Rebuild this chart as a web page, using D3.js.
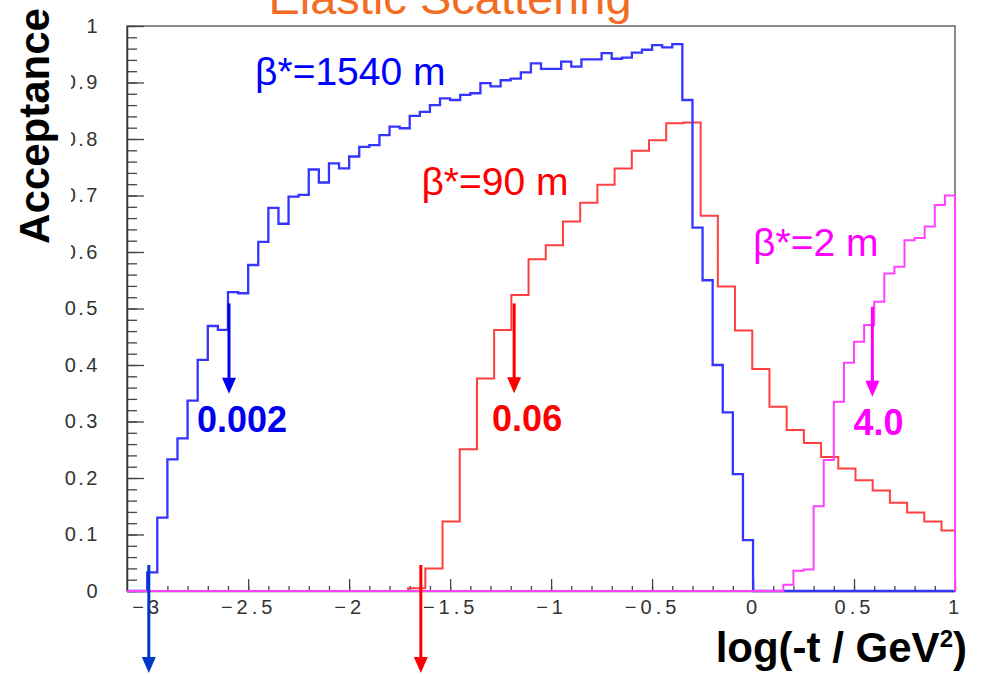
<!DOCTYPE html>
<html>
<head>
<meta charset="utf-8">
<script src="https://cdn.jsdelivr.net/npm/d3@7"></script>
<style>
  body { margin: 0; background: #fff; }
  svg { display: block; }
  text { font-family: "Liberation Sans", Arial, Helvetica, sans-serif; }
</style>
</head>
<body>
<svg id="chart" width="981" height="674"></svg>
<script>
// axis ranges and tick labels
const xDomain = [-3.1, 1];
const yDomain = [0, 1];
const xTicks = [-3, -2.5, -2, -1.5, -1, -0.5, 0, 0.5, 1];
const yTicks = [0, 0.1, 0.2, 0.3, 0.4, 0.5, 0.6, 0.7, 0.8, 0.9, 1];

// beta* = 1540 m, bins of 0.05 starting at -3.0
const blueStart = -3.0, blueWidth = 0.05;
const blueValues = [
  0.033, 0.130, 0.233, 0.270, 0.337, 0.409, 0.469, 0.462, 0.529, 0.527,
  0.577, 0.618, 0.678, 0.650, 0.698, 0.701, 0.746, 0.723, 0.757, 0.748,
  0.769, 0.786, 0.789, 0.807, 0.822, 0.819, 0.841, 0.848, 0.860, 0.872,
  0.869, 0.878, 0.881, 0.899, 0.893, 0.904, 0.907, 0.918, 0.934, 0.924,
  0.924, 0.937, 0.928, 0.941, 0.941, 0.952, 0.942, 0.944, 0.953, 0.958,
  0.966, 0.962, 0.968, 0.869, 0.643, 0.550, 0.400, 0.316, 0.207, 0.090
];

// beta* = 90 m
const redStart = -1.708, redWidth = 0.0852;
const redValues = [
  0.005, 0.040, 0.123, 0.251, 0.376, 0.462, 0.524, 0.587, 0.612, 0.654,
  0.687, 0.719, 0.748, 0.779, 0.798, 0.828, 0.829, 0.664, 0.539, 0.461,
  0.393, 0.326, 0.285, 0.262, 0.237, 0.217, 0.196, 0.178, 0.156, 0.139,
  0.123, 0.107
];

// beta* = 2 m
const magentaStart = 0.1, magentaWidth = 0.05;
const magentaValues = [
  0, 0.011, 0.036, 0.038, 0.150, 0.232, 0.335, 0.404, 0.441, 0.471,
  0.512, 0.562, 0.574, 0.621, 0.625, 0.645, 0.683, 0.700
];

// arrows: x, from, to (data units), with value label
const arrows = [
  { x: -2.595, from: 0.509, to: 0.349, color: "#0000f0", label: "0.002", dx: 13 },
  { x: -1.183, from: 0.509, to: 0.350, color: "#ff0000", label: "0.06", dx: 13 },
  { x: 0.591, from: 0.503, to: 0.344, color: "#ff00ff", label: "4.0", dx: 6 },
  { x: -2.992, from: 0.046, to: -0.145, color: "#0037c8", label: "", dx: 0 },
  { x: -1.645, from: 0.046, to: -0.145, color: "#ff0000", label: "", dx: 0 }
];

const betaLabels = [
  { text: "β*=1540 m", x: -2.466, y: 0.896, color: "#0000ff" },
  { text: "β*=90 m", x: -1.642, y: 0.701, color: "#ff0000" },
  { text: "β*=2 m", x: 0.0, y: 0.593, color: "#ff00ff" }
];

const svg = d3.select("#chart");
const x = d3.scaleLinear().domain(xDomain).range([127, 955]);
const y = d3.scaleLinear().domain(yDomain).range([591, 26]);

svg.append("rect").attr("width", 981).attr("height", 674).attr("fill", "#fff");

// title, partly off the top edge as in the slide
svg.append("text")
  .attr("x", 450).attr("y", 14)
  .attr("text-anchor", "middle")
  .attr("font-size", 47)
  .attr("fill", "#f26c24")
  .text("Elastic Scattering");

// frame
svg.append("rect")
  .attr("x", x(xDomain[0])).attr("y", y(1))
  .attr("width", x(xDomain[1]) - x(xDomain[0]))
  .attr("height", y(0) - y(1))
  .attr("fill", "none")
  .attr("stroke", "#666")
  .attr("stroke-width", 1.5);

// y axis
const yMinor = svg.append("g")
  .attr("transform", `translate(${x(xDomain[0])},0)`)
  .call(d3.axisLeft(y).tickValues(d3.range(0, 1.001, 0.02)).tickSize(-10).tickSizeOuter(0).tickFormat(""));
yMinor.select(".domain").remove();

const yAxis = svg.append("g")
  .attr("transform", `translate(${x(xDomain[0])},0)`)
  .call(d3.axisLeft(y).tickValues(yTicks).tickSize(-17).tickSizeOuter(0).tickPadding(27).tickFormat(d3.format("~g")));
yAxis.select(".domain").attr("stroke", "#333").attr("stroke-width", 1.5);
yAxis.selectAll("text")
  .attr("font-size", 20)
  .attr("fill", "#333")
  .style("letter-spacing", "2.5px");

// x axis
const xMinor = svg.append("g")
  .attr("transform", `translate(0,${y(0)})`)
  .call(d3.axisBottom(x).tickValues(d3.range(-3, 1.001, 0.1)).tickSize(-5).tickSizeOuter(0).tickFormat(""));
xMinor.select(".domain").remove();

const xAxis = svg.append("g")
  .attr("transform", `translate(0,${y(0)})`)
  .call(d3.axisBottom(x).tickValues(xTicks).tickSize(-12).tickSizeOuter(0).tickPadding(9).tickFormat(d3.format("~g")));
xAxis.select(".domain").attr("stroke", "#555").attr("stroke-width", 1.5);
xAxis.selectAll("text")
  .attr("font-size", 20)
  .attr("fill", "#333")
  .style("letter-spacing", "4px");

svg.selectAll(".tick line").attr("stroke", "#444").attr("stroke-width", 1.3);

// histograms as step outlines
function histPoints(start, width, values) {
  const pts = [[xDomain[0], 0], [start, 0]];
  values.forEach((v, i) => pts.push([start + i * width, v]));
  const end = Math.min(start + values.length * width, xDomain[1]);
  pts.push([end, values[values.length - 1]], [end, 0], [xDomain[1], 0]);
  return pts;
}

const line = d3.line()
  .x(d => x(d[0]))
  .y(d => y(d[1]))
  .curve(d3.curveStepAfter);

const hists = [
  { pts: histPoints(redStart, redWidth, redValues), color: "#ff4040", w: 2 },
  { pts: histPoints(blueStart, blueWidth, blueValues), color: "#3535ff", w: 2.3 },
  { pts: histPoints(magentaStart, magentaWidth, magentaValues), color: "#ff40ff", w: 2 }
];

svg.append("g")
  .selectAll("path")
  .data(hists)
  .join("path")
  .attr("d", d => line(d.pts))
  .attr("fill", "none")
  .attr("stroke", d => d.color)
  .attr("stroke-width", d => d.w);

// white box of the y title covering part of the tick labels
svg.append("rect")
  .attr("x", 0).attr("y", 0)
  .attr("width", 71).attr("height", 272)
  .attr("fill", "#fff");

svg.append("text")
  .attr("transform", "translate(49,126) rotate(-90)")
  .attr("text-anchor", "middle")
  .attr("font-size", 42)
  .attr("font-weight", "bold")
  .attr("fill", "#000")
  .text("Acceptance");

const xt = svg.append("text")
  .attr("x", 967).attr("y", 662)
  .attr("text-anchor", "end")
  .attr("font-size", 42)
  .attr("font-weight", "bold")
  .attr("fill", "#000");
xt.append("tspan").text("log(-t / GeV");
xt.append("tspan").attr("font-size", 24).attr("dy", -15).text("2");
xt.append("tspan").attr("dy", 15).text(")");

// beta labels
svg.append("g")
  .selectAll("text")
  .data(betaLabels)
  .join("text")
  .attr("x", d => x(d.x))
  .attr("y", d => y(d.y))
  .attr("font-size", 39)
  .attr("fill", d => d.color)
  .text(d => d.text);

// arrows
const ag = svg.append("g")
  .selectAll("g")
  .data(arrows)
  .join("g");

ag.append("line")
  .attr("x1", d => x(d.x)).attr("x2", d => x(d.x))
  .attr("y1", d => y(d.from)).attr("y2", d => y(d.to) - 12)
  .attr("stroke", d => d.color)
  .attr("stroke-width", 3);

ag.append("path")
  .attr("d", d => {
    const cx = x(d.x), ty = y(d.to);
    return `M${cx},${ty}L${cx - 7},${ty - 16}L${cx + 7},${ty - 16}Z`;
  })
  .attr("fill", d => d.color);

ag.filter(d => d.label)
  .append("text")
  .attr("x", d => x(d.x) + d.dx)
  .attr("y", d => y(d.to) + 38)
  .attr("text-anchor", "middle")
  .attr("font-size", 36)
  .attr("font-weight", "bold")
  .attr("fill", d => d.color)
  .text(d => d.label);
</script>
</body>
</html>
